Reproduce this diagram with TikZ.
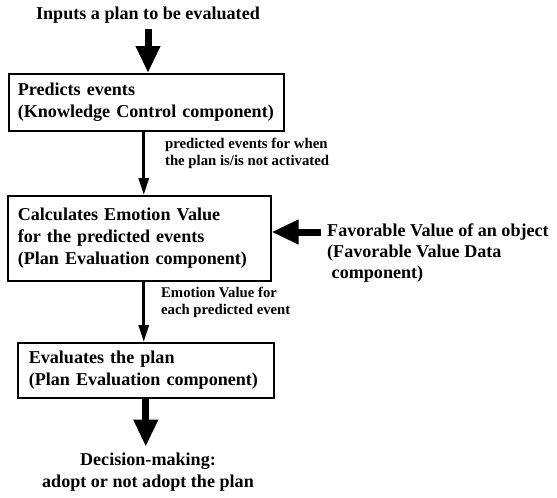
\documentclass[tikz,border=0pt]{standalone}
\usepackage{fontspec}
\setmainfont{Liberation Serif}
\usetikzlibrary{arrows.meta,positioning}

\begin{document}
\begin{tikzpicture}[
  x=0.02cm,
  y=-0.02cm,
  every node/.style={font=\bfseries\fontsize{10.3}{12.4}\selectfont},
  stepbox/.style={draw=black, line width=0.9pt, align=left, anchor=north west, inner xsep=0.18cm, inner ysep=0pt},
  lbl/.style={font=\bfseries\fontsize{8.4}{9.6}\selectfont, align=left, pos=0.35},
  bigarrow/.style={-{Triangle[length=0.54cm,width=0.46cm]}, line width=0.14cm},
  flow/.style={-{Triangle[length=0.34cm,width=0.2cm]}, line width=0.06cm}
]
\useasboundingbox (0,0) rectangle (557,497);
\node (input) at (148,15) {Inputs a plan to be evaluated};
\node[stepbox, text width=5.5cm-0.36cm, minimum height=1.14cm] (predict) at (8,73)
  {Predicts events\\(Knowledge Control component)};
\node[stepbox, text width=5.26cm-0.4cm, inner xsep=0.2cm, minimum height=1.7cm] (calc) at (7,195)
  {Calculates Emotion Value\\for the predicted events\\(Plan Evaluation component)};
\node[stepbox, text width=5.12cm-0.44cm, inner xsep=0.22cm, minimum height=1.1cm] (eval) at (17,342)
  {Evaluates the plan\\(Plan Evaluation component)};
\node[align=left, anchor=west, font=\bfseries\fontsize{10.3}{12}\selectfont] (fav) at (321,253)
  {Favorable Value of an object\\(Favorable Value Data\\\ component)};
\node[align=center] (decide) at (148,472) {Decision-making:\\adopt or not adopt the plan};

\draw[bigarrow] (input.south) -- (input.south |- predict.north);
\draw[flow] ([xshift=-0.05cm]predict.south) -- ([xshift=-0.05cm]predict.south |- calc.north)
  node[lbl, right=0.28cm] {predicted events for when\\the plan is/is not activated};
\draw[flow] ([xshift=0.09cm]calc.south) -- ([xshift=0.09cm]calc.south |- eval.north)
  node[lbl, right=0.2cm] {Emotion Value for\\each predicted event};
\draw[bigarrow] ([yshift=0.42cm]fav.west) -- ([yshift=0.42cm]fav.west -| calc.east);
\draw[bigarrow] (eval.south) -- (decide.north -| eval.south);
\end{tikzpicture}
\end{document}
